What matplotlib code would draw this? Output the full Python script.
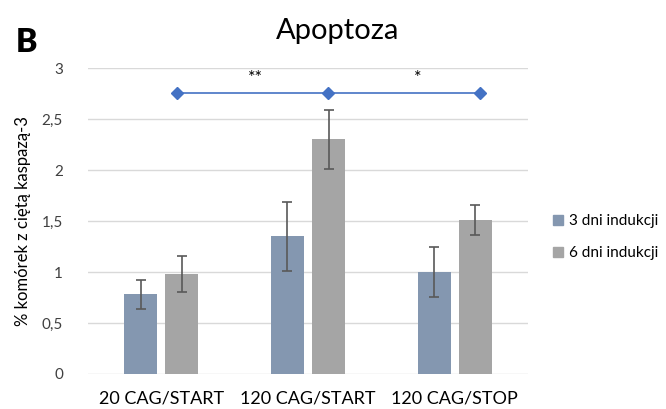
import numpy as np
import matplotlib.pyplot as plt
from matplotlib.patches import Patch

plt.rcParams['font.family'] = ['Lato', 'DejaVu Sans']

groups = ['20 CAG/START', '120 CAG/START', '120 CAG/STOP']
series = ['3 dni indukcji', '6 dni indukcji']
mean_3d = [0.78, 1.35, 1.00]
err_3d = [0.145, 0.34, 0.245]
mean_6d = [0.98, 2.30, 1.51]
err_6d = [0.175, 0.29, 0.145]

# significance bracket (diamond line) and stars
sig_x = [0.107, 1.136, 2.172]
sig_y = [2.76, 2.76, 2.76]
star_x = [0.64, 1.75]
star_txt = ['**', '*']
star_y = 2.9

c_blue = '#8497B0'
c_gray = '#A5A5A5'

fig = plt.figure(figsize=(6.66, 4.09), dpi=100)
ax = fig.add_axes([0.132, 0.0856, 0.661, 0.748])

x = np.arange(len(groups))
w = 0.225
off = 0.14
ekw = dict(ecolor='#595959', elinewidth=1.2, capsize=3.5, capthick=1.2)
ax.bar(x - off, mean_3d, w, yerr=err_3d, color=c_blue, error_kw=ekw, zorder=3)
ax.bar(x + off, mean_6d, w, yerr=err_6d, color=c_gray, error_kw=ekw, zorder=3)

ax.plot(sig_x, sig_y, color='#4472C4', lw=1.2, marker='D', ms=6, zorder=4)
for sx, t in zip(star_x, star_txt):
    ax.text(sx, star_y, t, ha='center', va='center', fontsize=13)

ax.set_xlim(-0.5, 2.5)
ax.set_ylim(0, 3)
ax.set_yticks(np.arange(0, 3.01, 0.5))
ax.set_yticklabels(['0', '0,5', '1', '1,5', '2', '2,5', '3'], fontsize=11, color='#404040')
ax.set_xticks(x)
ax.set_xticklabels(groups, fontsize=13, color='black')
ax.tick_params(axis='x', length=0, pad=12)
ax.tick_params(axis='y', length=0, pad=18)
ax.grid(axis='y', color='#D9D9D9', lw=1, zorder=0)
for s in ax.spines.values():
    s.set_visible(False)

ax.set_ylabel('% komórek z ciętą kaspazą-3', fontsize=12, labelpad=8)

fig.text(0.507, 0.925, 'Apoptoza', ha='center', va='center', fontsize=21)
fig.text(0.04, 0.895, 'B', ha='center', va='center', fontsize=23, fontweight='heavy')

handles = [Patch(color=c_blue), Patch(color=c_gray)]
fig.legend(handles, series, loc='center left', bbox_to_anchor=(0.83, 0.42),
           frameon=False, fontsize=11, handlelength=0.65, handleheight=0.65,
           handletextpad=0.4, labelspacing=1.2, borderpad=0, borderaxespad=0)

fig.savefig('out.png', dpi=100)
